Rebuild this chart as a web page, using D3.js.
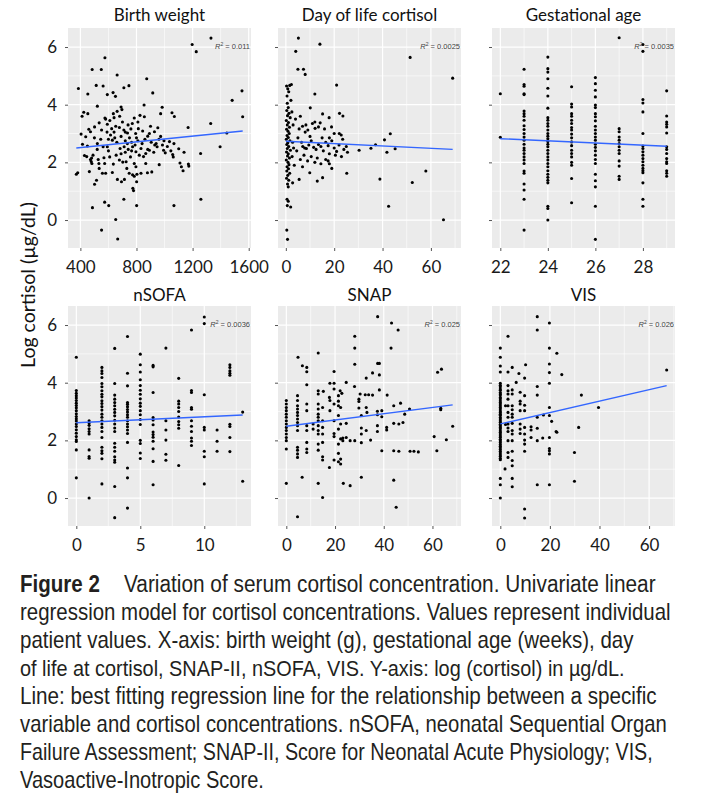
<!DOCTYPE html>
<html>
<head>
<meta charset="utf-8">
<script src="https://cdn.jsdelivr.net/npm/d3@7"></script>
<style>
  body { margin: 0; background: #fff; }
  text { font-family: Lato, "Open Sans", sans-serif; }
  .caption { font-family: "Liberation Sans", Arial, sans-serif; fill: #231f20; }
</style>
</head>
<body>
<svg id="chart" width="702" height="804"></svg>
<script>
// ---- data: [x, log cortisol] ----
const birthWeight = [
  [1331,6.31],[1197,6.09],[1226,5.84],[575,5.63],[484,5.22],[549,5.22],[662,5.03],[873,4.90],[386,4.56],[513,4.67],
  [562,4.65],[710,4.59],[746,4.66],[453,4.37],[592,4.35],[633,4.42],[650,4.29],[916,4.41],[1482,4.15],[1552,4.48],
  [1557,3.58],[854,3.99],[521,3.95],[690,3.92],[983,3.91],[424,3.74],[453,3.69],[412,3.60],[635,3.69],[662,3.77],
  [696,3.83],[575,3.54],[580,3.50],[784,3.54],[825,3.63],[856,3.58],[972,3.69],[1053,3.72],[1070,3.59],[1168,3.21],
  [1329,3.35],[405,2.98],[438,2.89],[472,3.06],[501,3.23],[534,3.37],[551,3.12],[592,3.32],[623,3.17],[652,3.25],
  [678,3.21],[710,3.12],[736,3.02],[760,3.16],[794,3.00],[813,3.17],[844,3.09],[880,2.91],[892,3.00],[928,3.06],
  [952,3.20],[972,2.90],[996,2.75],[1035,2.72],[1067,2.65],[1444,3.02],[1396,2.54],[415,2.63],[450,2.57],[521,2.65],
  [562,2.54],[592,2.54],[628,2.77],[683,2.48],[712,2.54],[741,2.45],[772,2.54],[796,2.37],[832,2.48],[866,2.31],
  [892,2.42],[923,2.35],[947,2.54],[993,2.42],[1005,2.33],[1058,2.27],[1062,2.19],[1101,2.47],[1139,2.35],[1257,2.31],
  [429,2.24],[472,2.10],[477,2.03],[482,1.96],[527,2.10],[532,1.96],[568,2.16],[573,1.96],[609,2.19],[635,1.94],
  [678,2.08],[702,2.01],[726,2.02],[757,2.19],[784,1.96],[796,1.85],[866,1.96],[962,1.92],[1110,1.98],[1120,1.85],
  [1132,1.71],[1170,1.94],[1173,1.87],[371,1.59],[381,1.64],[464,1.68],[501,1.24],[515,1.38],[534,1.79],[557,1.62],
  [580,1.62],[628,1.65],[664,1.41],[693,1.33],[714,1.41],[731,1.79],[748,1.62],[772,1.57],[784,1.52],[803,1.59],
  [774,1.10],[779,1.02],[801,1.33],[832,1.62],[878,1.64],[909,1.67],[486,0.43],[573,0.62],[602,0.50],[710,0.72],
  [801,0.50],[1067,0.50],[1259,0.72],[652,0.02],[551,-0.35],[666,-0.66],
  [600,2.80],[615,2.95],[645,2.85],[660,2.70],[690,2.90],[720,2.75],[735,2.65],[750,2.85],[765,2.70],[790,2.60],
  [810,2.75],[840,2.65],[860,2.80],[905,2.70],[940,2.65],[960,2.80],[985,2.60],[1020,2.55],[1045,2.40],[545,2.80],
  [520,2.45],[490,2.25],[500,2.85],[460,3.15],[445,2.20],[480,2.15],[610,3.45],[640,3.55],[680,3.60],[700,3.40],
  [720,3.05],[740,3.30],[765,2.40],[820,2.25],[850,2.20],[880,2.45],[900,3.25],[930,2.60],[655,2.25],[690,2.30],
  [720,2.35],[600,2.40],[590,3.05],[640,3.05],[800,2.85],[770,3.35],[810,3.40]
];

const dayOfLife = [
  [5.2,6.31],[14.1,6.10],[4.1,5.85],[5.0,5.23],[7.3,5.23],[8.0,5.05],[51.4,5.64],[69.0,4.92],[21.0,4.68],[12.0,4.37],
  [10.1,3.89],[15.2,3.68],[17.9,3.55],[22.2,3.70],[23.6,3.61],
  [0.3,4.65],[0.8,4.55],[1.2,4.45],[0.5,4.30],[1.6,4.67],[2.3,4.70],[2.1,4.15],[0.6,4.05],[1.0,3.90],[0.4,3.80],
  [1.3,3.70],[0.7,3.62],[1.8,3.55],[0.2,3.45],[1.1,3.38],[0.6,3.30],[1.5,3.22],[0.3,3.15],[0.9,3.08],[1.4,3.00],
  [0.5,2.93],[1.0,2.86],[0.2,2.80],[1.7,2.75],[0.8,2.68],[0.4,2.62],[1.2,2.55],[0.6,2.48],[1.9,2.42],[0.3,2.36],
  [1.0,2.30],[0.7,2.22],[1.5,2.15],[0.2,2.08],[0.9,2.00],[1.3,1.92],[0.5,1.85],[1.1,1.78],[0.4,1.70],[1.6,1.62],
  [0.8,1.55],[0.3,1.45],[1.2,1.38],[0.7,1.25],[1.0,1.15],[0.5,0.72],[1.0,0.65],[0.6,0.50],[2.0,0.45],[0.4,-0.35],
  [0.7,-0.67],[2.5,3.75],[3.0,3.30],[2.8,2.70],[3.2,2.50],[2.6,2.20],[3.5,1.90],[2.8,1.29],[5.5,1.41],
  [5.5,3.16],[6.9,3.25],[8.3,3.30],[9.1,3.12],[11.0,3.35],[12.1,3.18],[13.5,3.23],[14.2,3.37],[16.0,3.16],[18.9,3.23],
  [22.1,3.00],[22.9,2.95],[5.0,2.85],[6.5,2.70],[7.0,2.55],[7.8,2.50],[8.5,2.48],[9.5,2.60],[10.5,2.75],[11.5,2.52],
  [12.5,2.45],[13.5,2.62],[14.5,2.55],[15.5,2.40],[16.5,2.70],[17.5,2.58],[18.0,2.30],[19.0,2.75],[20.0,2.50],[21.0,2.38],
  [22.0,2.60],[23.0,2.20],[24.0,2.45],[25.0,2.55],[25.5,2.35],[4.5,2.40],[6.0,2.10],[7.5,2.25],[9.0,2.05],[10.5,2.20],
  [12.0,2.00],[13.0,2.15],[14.5,1.95],[16.5,2.10],[18.0,1.95],[20.5,2.25],[6.9,1.85],[9.9,1.64],[13.0,1.35],[15.2,1.47],
  [19.0,1.79],[17.5,2.05],[30.3,2.42],[35.2,2.49],[37.1,2.61],[40.8,2.78],[41.8,2.35],[43.2,2.99],[45.2,2.47],[25.2,1.62],
  [38.9,1.42],[52.3,1.30],[57.9,1.70],[42.5,0.48],[65.2,0.01],[4.0,3.50],[6.0,3.60],[8.0,3.05],[10.0,2.90],[12.0,3.40],
  [15.0,2.85],[18.0,2.85],[20.0,3.00],[23.5,2.80]
];

const gestationalAge = [
  [22,4.38],[22,2.87],
  [23,5.23],[23,4.70],[23,4.64],[23,4.38],[23,4.35],[23,3.78],[23,3.69],[23,3.60],[23,3.46],[23,3.27],[23,3.14],[23,3.00],
  [23,2.88],[23,2.77],[23,2.63],[23,2.50],[23,2.42],[23,2.31],[23,2.19],[23,2.08],[23,1.96],[23,1.70],[23,1.62],[23,1.25],
  [23,1.04],[23,0.72],[23,-0.35],
  [24,5.65],[24,5.25],[24,5.13],[24,4.90],[24,4.57],[24,4.30],[24,3.88],[24,3.55],[24,3.46],[24,3.35],[24,3.25],[24,3.12],
  [24,3.00],[24,2.91],[24,2.82],[24,2.72],[24,2.63],[24,2.54],[24,2.42],[24,2.31],[24,2.19],[24,2.08],[24,1.96],[24,1.85],
  [24,1.71],[24,1.59],[24,1.48],[24,1.38],[24,1.29],[24,0.48],[24,0.40],[24,0.00],
  [25,4.62],[25,4.02],[25,3.92],[25,3.69],[25,3.60],[25,3.46],[25,3.35],[25,3.21],[25,3.12],[25,2.98],[25,2.85],[25,2.71],
  [25,2.58],[25,2.42],[25,2.31],[25,2.19],[25,2.00],[25,1.90],[25,1.44],[25,0.60],
  [26,4.94],[26,4.73],[26,4.50],[26,4.27],[26,3.99],[26,3.90],[26,3.69],[26,3.58],[26,3.44],[26,3.25],[26,3.12],[26,3.00],
  [26,2.88],[26,2.77],[26,2.63],[26,2.52],[26,2.40],[26,2.25],[26,2.10],[26,1.96],[26,1.59],[26,1.36],[26,1.15],[26,0.48],
  [26,-0.67],
  [27,6.32],[27,3.17],[27,3.06],[27,2.88],[27,2.77],[27,2.65],[27,2.54],[27,2.42],[27,2.31],[27,2.05],[27,1.87],[27,1.52],
  [27,1.41],
  [28,6.09],[28,5.85],[28,4.18],[28,4.06],[28,3.75],[28,3.00],[28,2.57],[28,2.48],[28,2.37],[28,2.25],[28,2.13],[28,2.02],
  [28,1.90],[28,1.79],[28,1.71],[28,1.64],[28,1.29],[28,0.72],[28,0.48],
  [29,4.48],[29,3.61],[29,3.40],[29,3.32],[29,3.23],[29,3.02],[29,2.54],[29,2.45],[29,2.31],[29,2.13],[29,2.02],[29,1.96],
  [29,1.71],[29,1.62],[29,1.52]
];

const nSofa = [
  [0,4.88],[0,3.73],[0,3.63],[0,3.55],[0,3.47],[0,3.38],[0,3.29],[0,3.21],[0,3.13],[0,3.03],[0,2.92],[0,2.83],[0,2.75],
  [0,2.67],[0,2.57],[0,2.48],[0,2.37],[0,2.25],[0,2.13],[0,2.02],[0,1.96],[0,1.67],[0,0.70],
  [1,2.68],[1,2.60],[1,2.52],[1,2.40],[1,2.31],[1,2.22],[1,1.67],[1,1.44],[1,1.38],[1,0.00],
  [2,4.53],[2,4.41],[2,4.32],[2,4.18],[2,3.97],[2,3.86],[2,3.72],[2,3.60],[2,3.51],[2,3.37],[2,3.28],[2,3.17],[2,3.05],
  [2,2.91],[2,2.80],[2,2.68],[2,2.57],[2,2.45],[2,2.31],[2,2.10],[2,1.76],[2,1.64],[2,1.55],[2,1.36],[2,0.49],
  [3,5.19],[3,3.97],[3,3.57],[3,3.43],[3,3.31],[3,3.20],[3,3.08],[3,2.97],[3,2.85],[3,2.70],[3,2.57],[3,2.43],[3,2.31],
  [3,1.90],[3,1.76],[3,1.62],[3,1.43],[3,1.32],[3,1.24],[3,0.40],[3,-0.68],
  [4,5.60],[4,4.33],[4,3.89],[4,3.31],[4,3.25],[4,3.17],[4,3.07],[4,2.98],[4,2.89],[4,2.80],[4,2.68],[4,2.57],[4,2.47],
  [4,2.36],[4,2.24],[4,1.93],[4,1.04],[4,0.70],[4,-0.35],
  [5,4.99],[5,4.62],[5,4.37],[5,4.10],[5,3.90],[5,3.74],[5,3.60],[5,3.44],[5,3.29],[5,3.18],[5,3.03],[5,2.89],[5,2.72],
  [5,2.55],[5,2.00],[5,1.89],[5,1.56],[5,1.37],
  [6,4.60],[6,4.55],[6,3.66],[6,2.79],[6,2.71],[6,2.54],[6,2.29],[6,2.20],[6,2.11],[6,1.97],[6,1.71],[6,1.27],[6,0.46],
  [7,5.20],[7,2.68],[7,2.36],[7,2.01],[7,1.52],[7,1.31],
  [8,4.15],[8,3.36],[8,3.26],[8,3.14],[8,3.00],[8,2.81],[8,2.65],[8,2.54],[8,2.42],[8,1.13],
  [9,5.83],[9,3.73],[9,3.66],[9,3.14],[9,3.08],[9,2.68],[9,2.49],[9,2.31],[9,2.08],[9,1.97],[9,1.82],
  [10,6.28],[10,6.05],[10,3.58],[10,2.45],[10,2.36],[10,1.62],[10,1.43],[10,0.49],
  [11,2.36],[11,1.97],[11,1.62],
  [12,4.62],[12,4.53],[12,4.41],[12,4.33],[12,4.26],[12,2.56],[12,2.48],[12,2.10],[12,1.61],
  [13,2.98],[13,0.58]
];

const snap = [
  [37.5,6.29],[43.2,6.07],[45.9,5.83],[28.1,5.61],[28.1,5.20],[43.0,5.20],[4.8,4.88],[13.1,5.03],[6.6,4.59],[8.4,4.53],
  [8.4,4.38],[28.1,4.64],[19.6,4.39],[37.5,4.67],[38.2,4.67],[35.4,4.34],[38.2,4.27],[32.8,4.16],[62.1,4.36],[63.7,4.47],
  [8.4,3.93],[17.9,3.98],[19.6,3.98],[24.6,4.01],[19.6,3.78],[22.1,3.72],[22.8,3.63],[13.1,3.72],[13.1,3.61],[15.2,3.70],
  [28.0,3.87],[30.3,3.61],[32.4,3.58],[33.8,3.58],[35.4,3.57],[38.2,3.75],[41.4,3.57],
  [4.6,3.55],[4.6,3.38],[4.6,3.20],[4.6,3.09],[4.6,2.97],[4.6,2.86],[4.6,2.74],[4.6,2.62],[4.6,2.51],[4.6,2.34],
  [4.6,1.76],[4.6,1.66],[4.6,1.53],[4.6,1.41],
  [0,3.38],[0,3.26],[0,3.14],[0,3.03],[0,2.91],[0,2.80],[0,2.68],[0,2.57],[0,2.45],[0,2.34],[0,2.22],[0,2.10],[0,1.99],
  [0,1.70],[0,0.51],
  [8.4,3.26],[8.4,3.03],[8.4,2.51],[8.4,2.34],[8.4,1.93],[8.4,1.70],[8.4,1.58],
  [13.1,3.26],[13.1,3.09],[13.1,2.91],[13.1,2.80],[13.1,2.68],[13.1,2.51],[13.1,2.34],[13.1,2.22],[13.1,1.87],[13.1,1.66],
  [13.1,0.51],
  [14.9,3.14],[14.9,2.68],[14.9,2.45],[14.9,2.22],[14.9,1.93],[14.9,1.43],[14.9,1.32],[14.9,0.02],
  [11.0,2.57],[11.0,2.39],[17.7,3.49],[17.9,3.03],[17.9,3.38],
  [19.6,3.26],[19.6,2.68],[19.6,2.24],[19.6,2.13],[19.6,1.32],[17.7,1.06],
  [21.4,3.55],[21.4,3.36],[21.4,3.20],[21.4,2.86],[21.4,2.39],[21.4,1.87],[21.4,1.55],[21.4,1.26],
  [22.3,3.14],[22.3,2.57],[22.3,2.05],[22.3,1.35],[22.3,1.18],
  [23.2,2.08],[23.2,1.99],[23.4,0.51],[24.6,2.59],[24.6,2.10],[26.2,1.99],[26.2,0.43],[28.1,1.99],
  [29.8,3.43],[29.8,3.35],[29.8,3.12],[30.8,2.86],[30.8,2.43],[30.8,2.22],[30.8,1.92],[30.8,0.72],
  [32.8,3.14],[32.8,2.34],[33.1,2.97],[34.6,2.01],[37.4,3.01],[37.4,2.89],[37.4,2.51],[37.4,2.31],
  [39.2,3.03],[39.2,2.82],[39.2,1.64],[41.2,2.45],[41.2,2.36],
  [44.1,3.20],[44.1,2.59],[44.1,1.64],[44.1,0.62],[45.1,-0.32],[46.2,2.57],[46.2,1.62],[46.9,3.29],[47.9,2.62],[48.6,2.91],
  [50.8,1.62],[52.4,1.62],[54.2,1.60],[50.6,3.09],[60.7,2.13],[61.8,1.64],[63.4,3.06],[63.4,3.11],[65.7,2.02],[68.3,2.49],
  [6.5,0.72],[4.6,-0.65]
];

const vis = [
  [14.9,6.29],[19.8,6.07],[14.9,5.83],[3.1,5.61],[0,5.20],[19.8,5.20],[22.8,5.02],[0,4.88],[0,4.58],[0,4.37],
  [4.8,4.53],[3.1,4.37],[7.5,4.32],[10.2,4.62],[19.8,4.65],[19.8,4.35],[19.8,3.98],[24.8,4.28],[9.8,4.16],[6.4,4.01],
  [67.1,4.44],
  [3.1,3.90],[3.1,3.72],[3.1,3.61],[3.1,3.43],
  [4.8,3.75],[4.8,3.61],[4.8,3.20],[4.8,3.06],[4.8,2.91],[4.8,2.80],[4.8,2.59],[4.8,2.34],[4.8,2.22],[4.8,1.99],
  [4.8,1.62],[4.8,1.30],[4.8,1.12],
  [8.0,3.67],[8.0,3.36],[8.0,3.26],[8.0,3.03],[8.0,2.57],[8.0,2.39],[8.0,2.24],
  [9.8,3.55],[9.8,3.22],[9.8,3.03],[9.8,2.45],[9.8,2.22],[9.8,2.01],[9.8,1.87],[9.8,1.62],[9.8,-0.38],[9.8,-0.69],
  [2.1,3.20],[2.1,2.55],
  [3.1,3.20],[3.1,2.97],[3.1,2.80],[3.1,2.57],[3.1,2.43],[3.1,2.31],[3.1,1.99],[3.1,1.58],[3.1,1.41],
  [1.9,1.01],[0,0.68],[0,0.46],[0,0.00],[4.8,0.68],[4.8,0.39],[14.9,0.46],[19.8,0.46],[29.9,0.58],[29.9,1.58],
  [14.9,3.87],[14.9,3.57],[14.9,2.80],[14.9,2.42],[14.9,1.99],[12.4,2.47],[12.4,2.36],[12.4,2.10],[17.1,2.08],[17.4,2.88],
  [19.8,3.14],[19.8,2.86],[19.8,2.10],[19.8,1.72],[19.8,1.64],[19.8,1.53],
  [20.7,2.66],[22.5,2.31],[22.8,2.28],[32.7,3.57],[31.6,2.45],[39.6,3.14],
  [0,3.98],[0,3.91],[0,3.86],[0,3.78],[0,3.74],[0,3.66],[0,3.61],[0,3.57],[0,3.49],[0,3.44],[0,3.37],[0,3.31],
  [0,3.26],[0,3.20],[0,3.14],[0,3.09],[0,3.02],[0,2.97],[0,2.91],[0,2.86],[0,2.79],[0,2.74],[0,2.68],[0,2.63],
  [0,2.56],[0,2.51],[0,2.45],[0,2.40],[0,2.33],[0,2.28],[0,2.22],[0,2.16],[0,2.11],[0,2.04],[0,1.99],[0,1.93],
  [0,1.86],[0,1.80],[0,1.74],[0,1.68],[0,1.62],[0,1.56],[0,1.50],[0,1.45],[0,1.38],[0,1.33]
];

// fitted regression lines: [[x0, y0], [x1, y1]]
const birthWeightFit = [[371, 2.50], [1557, 3.09]];
const dayOfLifeFit = [[0, 2.73], [69, 2.45]];
const gestationalAgeFit = [[22, 2.82], [29, 2.56]];
const nSofaFit = [[0, 2.61], [13, 2.88]];
const snapFit = [[0, 2.49], [68.3, 3.23]];
const visFit = [[0, 2.57], [67.1, 3.90]];

const titles = ["Birth weight", "Day of life cortisol", "Gestational age", "nSOFA", "SNAP", "VIS"];
const r2Labels = ["0.011", "0.0025", "0.0035", "0.0036", "0.025", "0.026"];
const xTicks = [[400, 800, 1200, 1600], [0, 20, 40, 60], [22, 24, 26, 28], [0, 5, 10], [0, 20, 40, 60], [0, 20, 40, 60]];
const xMinor = [[600, 1000, 1400], [10, 30, 50, 70], [23, 25, 27, 29], [2.5, 7.5, 12.5], [10, 30, 50, 70], [10, 30, 50, 70]];
const yTicks = [0, 2, 4, 6];
const yMinor = [1, 3, 5];
const yDomain = [-0.97, 6.66];

const captionHead = "Figure 2";
const captionLines = [
  "Variation of serum cortisol concentration. Univariate linear",
  "regression model for cortisol concentrations. Values represent individual",
  "patient values. X-axis: birth weight (g), gestational age (weeks), day",
  "of life at cortisol, SNAP-II, nSOFA, VIS. Y-axis: log (cortisol) in µg/dL.",
  "Line: best fitting regression line for the relationship between a specific",
  "variable and cortisol concentrations. nSOFA, neonatal Sequential Organ",
  "Failure Assessment; SNAP-II, Score for Neonatal Acute Physiology; VIS,",
  "Vasoactive-Inotropic Score."
];
// right edge of each caption line in the figure (the typeface there is condensed)
const captionLineEnds = [656, 671, 634, 625, 657, 667, 653, 264];

const allPoints = [birthWeight, dayOfLife, gestationalAge, nSofa, snap, vis];
const allFits = [birthWeightFit, dayOfLifeFit, gestationalAgeFit, nSofaFit, snapFit, visFit];

// ---- layout ----
const colLeft = [68, 278, 492];
const colWidth = 183;
const rowTop = [28, 306];
const rowHeight = 220;

const svg = d3.select("#chart");

allPoints.forEach((pts, i) => {
  const col = i % 3, row = Math.floor(i / 3);
  const x0 = colLeft[col], y0 = rowTop[row];

  const ext = d3.extent(pts, d => d[0]);
  const pad = (ext[1] - ext[0]) * 0.05;
  const x = d3.scaleLinear().domain([ext[0] - pad, ext[1] + pad]).range([0, colWidth]);
  const y = d3.scaleLinear().domain(yDomain).range([rowHeight, 0]);

  const g = svg.append("g").attr("transform", `translate(${x0},${y0})`);

  g.append("rect").attr("width", colWidth).attr("height", rowHeight).attr("fill", "#ebebeb");

  // minor then major grid
  g.selectAll(".vminor").data(xMinor[i]).join("line")
    .attr("x1", d => x(d)).attr("x2", d => x(d)).attr("y1", 0).attr("y2", rowHeight)
    .attr("stroke", "#fff").attr("stroke-width", 0.6);
  g.selectAll(".hminor").data(yMinor).join("line")
    .attr("y1", d => y(d)).attr("y2", d => y(d)).attr("x1", 0).attr("x2", colWidth)
    .attr("stroke", "#fff").attr("stroke-width", 0.6);
  g.selectAll(".vmajor").data(xTicks[i]).join("line")
    .attr("x1", d => x(d)).attr("x2", d => x(d)).attr("y1", 0).attr("y2", rowHeight)
    .attr("stroke", "#fff").attr("stroke-width", 1.2);
  g.selectAll(".hmajor").data(yTicks).join("line")
    .attr("y1", d => y(d)).attr("y2", d => y(d)).attr("x1", 0).attr("x2", colWidth)
    .attr("stroke", "#fff").attr("stroke-width", 1.2);

  // axes: ticks only, labels where the figure has them
  const yAxis = d3.axisLeft(y).tickValues(yTicks).tickSize(3).tickPadding(8)
    .tickFormat(col === 0 ? d3.format("d") : () => "");
  const ya = g.append("g").call(yAxis);
  ya.select(".domain").remove();
  ya.selectAll("line").attr("stroke", "#555");
  ya.selectAll("text").attr("font-size", 17).attr("fill", "#1a1a1a");

  const xAxis = d3.axisBottom(x).tickValues(xTicks[i]).tickSize(3).tickPadding(10).tickFormat(d3.format("d"));
  const xa = g.append("g").attr("transform", `translate(0,${rowHeight})`).call(xAxis);
  xa.select(".domain").remove();
  xa.selectAll("line").attr("stroke", "#555");
  xa.selectAll("text").attr("font-size", 17).attr("fill", "#1a1a1a");

  // points
  g.selectAll(".pt").data(pts).join("circle")
    .attr("cx", d => x(d[0])).attr("cy", d => y(d[1])).attr("r", 1.55).attr("fill", "#000");

  // regression line
  g.append("path").datum(allFits[i])
    .attr("d", d3.line().x(d => x(d[0])).y(d => y(d[1])))
    .attr("stroke", "#3366ff").attr("stroke-width", 1.4).attr("fill", "none");

  // R² label
  const r2 = g.append("text").attr("x", colWidth - 1).attr("y", y(6) + 1.5)
    .attr("text-anchor", "end").attr("font-size", 7.5).attr("fill", "#444")
    .style("font-family", "'Liberation Sans', Arial, sans-serif");
  r2.append("tspan").attr("font-style", "italic").text("R");
  r2.append("tspan").attr("font-size", 5).attr("dy", -3).text("2");
  r2.append("tspan").attr("dy", 3).text(" = " + r2Labels[i]);

  // title
  svg.append("text").attr("x", x0 + colWidth / 2).attr("y", row === 0 ? 21 : 301)
    .attr("text-anchor", "middle").attr("font-size", 17).attr("fill", "#111")
    .text(titles[i]);
});

// y axis title
svg.append("text")
  .attr("transform", "translate(35,285) rotate(-90)")
  .attr("text-anchor", "middle").attr("font-size", 19.5).attr("fill", "#111")
  .text("Log cortisol (µg/dL)");

// caption: regular sans squeezed horizontally to the condensed line widths of the figure
const cap = svg.append("g");
const lineGap = 28;

function squeezed(str, left, right, baseline, bold) {
  const t = cap.append("text").attr("class", "caption")
    .attr("font-size", 23).attr("font-weight", bold ? "bold" : null)
    .text(str);
  const w = t.node().getComputedTextLength();
  t.attr("transform", `translate(${left},${baseline}) scale(${(right - left) / w},1)`);
  return t;
}

squeezed(captionHead, 20, 100, 592, true);
captionLines.forEach((line, k) => {
  squeezed(line, k === 0 ? 124 : 20, captionLineEnds[k], 592 + k * lineGap, false);
});
</script>
</body>
</html>
